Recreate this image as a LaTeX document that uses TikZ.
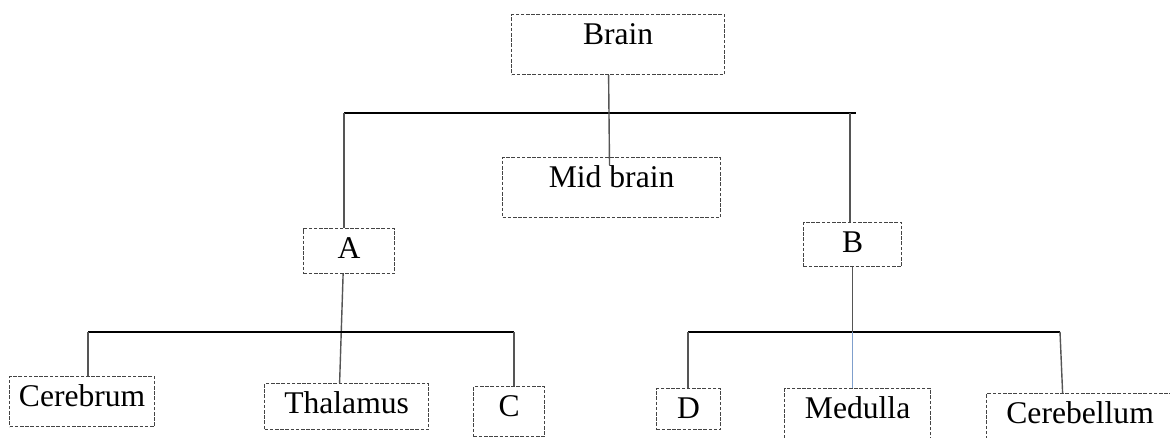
\documentclass[tikz,border=0pt]{standalone}
\usepackage{fontspec}
\setmainfont{Liberation Serif}
\definecolor{boxgray}{HTML}{444444}
\definecolor{linegray}{HTML}{555555}
\definecolor{lineblue}{HTML}{7F9FCC}
\tikzset{
  bx/.style={draw=boxgray, line width=0.6pt, dash pattern=on 1.8pt off 0.8pt,
    anchor=north west, inner sep=0pt, text height=15pt,
    font=\fontsize{15.8pt}{18pt}\selectfont},
  conn/.style={draw=black, line width=0.55pt},
  vconn/.style={draw=linegray, line width=0.7pt},
}
\begin{document}
\begin{tikzpicture}[x=0.5pt,y=-0.5pt]
\path[use as bounding box] (0,0) rectangle (1170,438);
\fill[white] (0,0) rectangle (1170,438);
\clip (0,0) rectangle (1170,438);
% boxes
\node[bx, minimum width=106.5pt, text depth=15pt] (brain) at (511,14) {Brain};
\node[bx, minimum width=109pt, text depth=15pt] (mid) at (502,157) {Mid brain};
\node[bx, minimum width=45.5pt, text depth=7.5pt] (A) at (303,228) {A};
\node[bx, minimum width=49pt, text depth=7pt] (B) at (803,222) {B};
\node[bx, minimum width=72.5pt, text depth=10pt] (cer) at (9,376) {Cerebrum};
\node[bx, minimum width=82pt, text depth=8pt] (thal) at (264,383) {Thalamus};
\node[bx, minimum width=35.5pt, text depth=10pt] (C) at (473,386) {C};
\node[bx, minimum width=32pt, text depth=5.5pt] (D) at (656,388) {D};
\node[bx, minimum width=73pt, text depth=16pt] (med) at (784,388) {Medulla};
\node[bx, minimum width=93.5pt, text depth=16pt] (cbl) at (986,393) {Cerebellum};
% junction coordinates
\coordinate (tL) at (344,113);
\coordinate (tR) at (856,113);
\coordinate (tB) at (850,113);
\coordinate (mbend) at (609.5,165);
\coordinate (lL) at (88,332);
\coordinate (lR) at (514,332);
\coordinate (rL) at (688,332);
\coordinate (rR) at (1060,332);
% top level
\draw[conn] (tL) -- (tR);
\draw[vconn] ([xshift=-4.75pt]brain.south) -- (mbend);
\draw[vconn] (tL) -- (tL |- A.north);
\draw[vconn] (tB) -- (tB |- B.north);
% A group
\draw[vconn] ([xshift=-3pt]A.south) -- ([xshift=-3.5pt]thal.north);
\draw[conn] (lL) -- (lR);
\draw[vconn] (lL) -- (lL |- cer.north);
\draw[vconn] (lR) -- (lR |- C.north);
% B group
\draw[conn] (rL) -- (rR);
\draw[vconn] (B.south) -- (B.south |- rL);
\draw[draw=lineblue, line width=0.7pt] (B.south |- rL) -- (B.south |- med.north);
\draw[vconn] (rL) -- (rL |- D.north);
\draw[vconn] (rR) -- ([xshift=-8.75pt]cbl.north);
\end{tikzpicture}
\end{document}
